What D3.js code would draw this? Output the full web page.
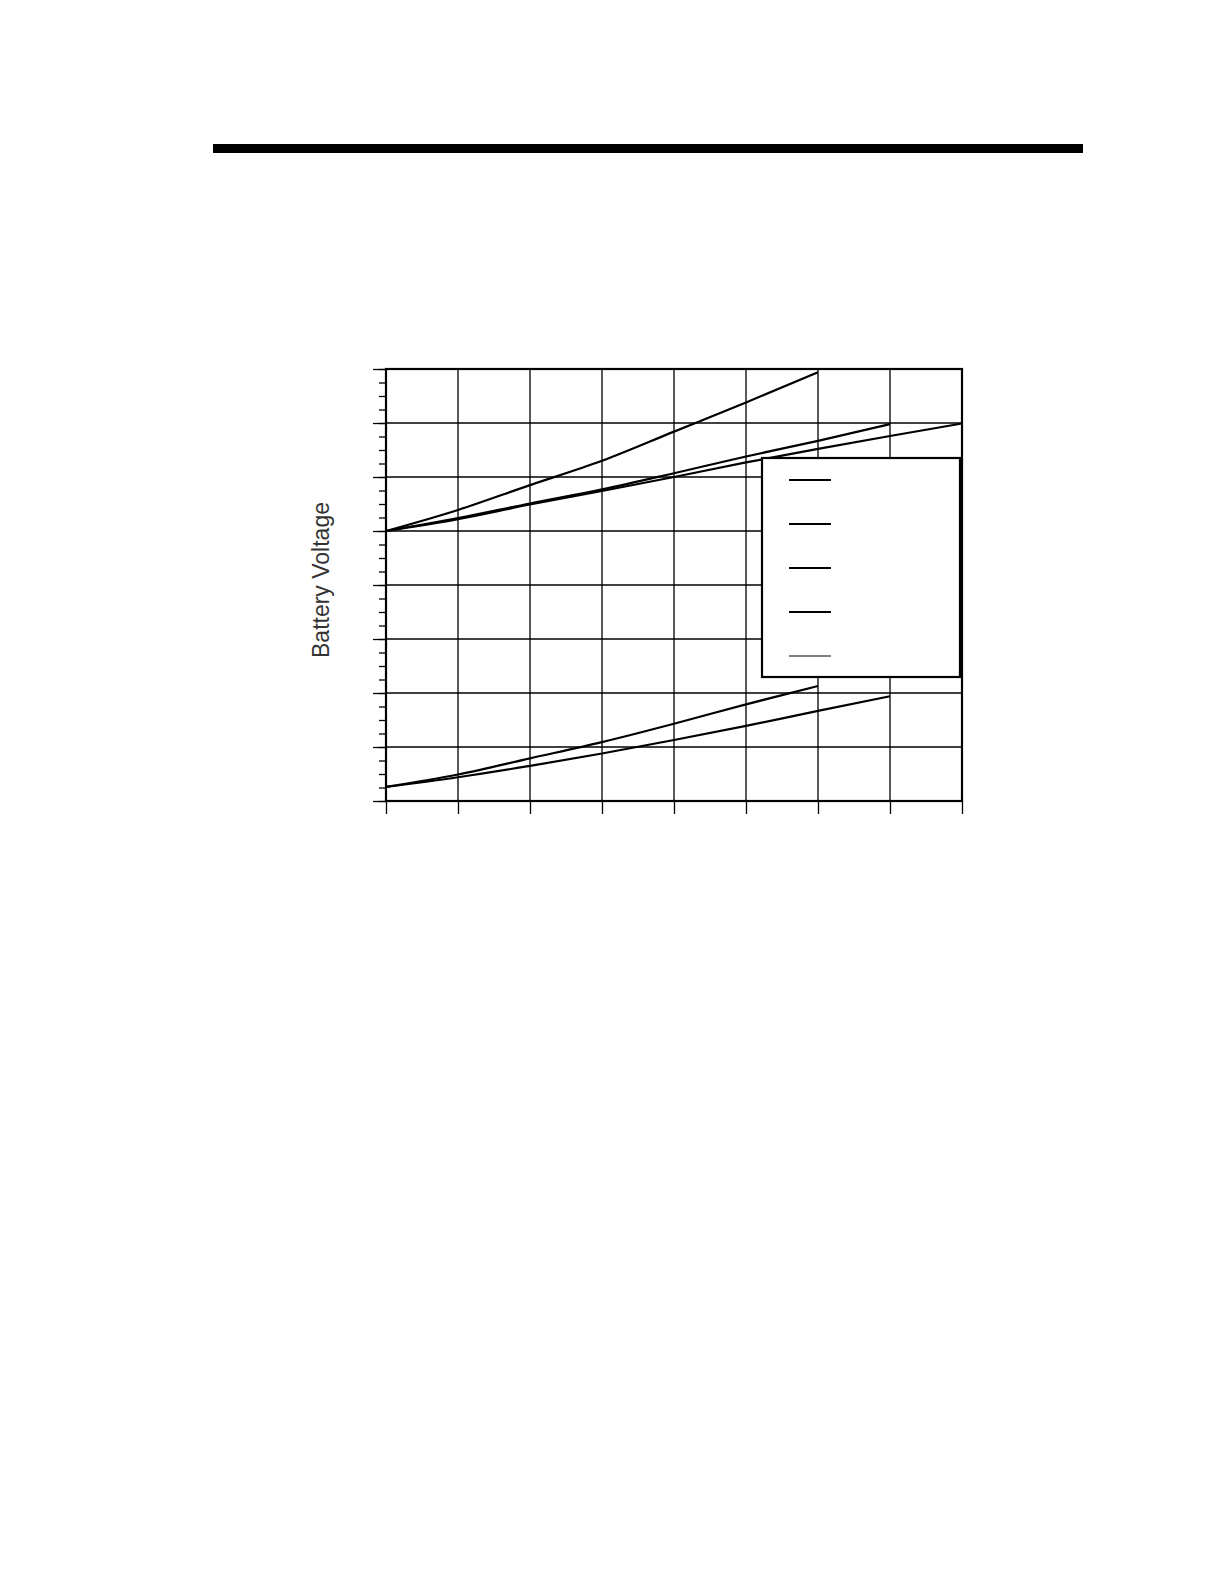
<!DOCTYPE html>
<html>
<head>
<meta charset="utf-8">
<script src="https://cdn.jsdelivr.net/npm/d3@7"></script>
<style>
  body { margin: 0; background: #fff; }
  svg { display: block; }
</style>
</head>
<body>
<script>
// grid units on both axes, no tick labels in the source
var xTicks = [0, 1, 2, 3, 4, 5, 6, 7, 8];
var yTicks = [0, 1, 2, 3, 4, 5, 6, 7, 8];
var yMinorTicks = d3.range(0, 8.01, 0.25);

var hoursA = [0, 1, 2, 3, 4, 5, 6];
var voltsA = [5.0, 5.39, 5.85, 6.30, 6.84, 7.38, 7.94];
var hoursB = [0, 1, 2, 3, 4, 5, 6, 7];
var voltsB = [5.0, 5.24, 5.51, 5.77, 6.07, 6.38, 6.67, 6.98];
var hoursC = [0, 1, 2, 3, 4, 5, 6, 7, 8];
var voltsC = [5.0, 5.22, 5.49, 5.74, 6.0, 6.27, 6.52, 6.76, 6.99];
var hoursD = [0, 1, 2, 3, 4, 5, 6];
var voltsD = [0.26, 0.49, 0.79, 1.09, 1.43, 1.79, 2.13];
var hoursE = [0, 1, 2, 3, 4, 5, 6, 7];
var voltsE = [0.26, 0.44, 0.65, 0.88, 1.13, 1.39, 1.67, 1.94];

var legendEntries = ['', '', '', '', ''];

var margin = {top: 369, left: 386}
  , width = 576
  , height = 432;

var x = d3.scaleLinear().domain([0, 8]).range([0, width]);
var y = d3.scaleLinear().domain([0, 8]).range([height, 0]);

var svg = d3.select('body').append('svg')
    .attr('width', 1224)
    .attr('height', 1584);

// heavy rule at top of page
svg.append('rect')
    .attr('x', 213).attr('y', 144)
    .attr('width', 870).attr('height', 9)
    .attr('fill', '#000');

var main = svg.append('g')
    .attr('transform', 'translate(' + margin.left + ',' + margin.top + ')');

// grid
main.append('g').selectAll('line.v')
    .data(xTicks)
    .enter().append('line')
    .attr('x1', function (d) { return x(d); })
    .attr('x2', function (d) { return x(d); })
    .attr('y1', 0).attr('y2', height)
    .attr('stroke', '#000').attr('stroke-width', 1.3);

main.append('g').selectAll('line.h')
    .data(yTicks)
    .enter().append('line')
    .attr('y1', function (d) { return y(d); })
    .attr('y2', function (d) { return y(d); })
    .attr('x1', 0).attr('x2', width)
    .attr('stroke', '#000').attr('stroke-width', 1.3);

// axes: ticks only
var yAxisMinor = d3.axisLeft(y).tickValues(yMinorTicks).tickSize(7).tickFormat('');
var yAxis = d3.axisLeft(y).tickValues(yTicks).tickSize(13).tickFormat('');
var xAxis = d3.axisBottom(x).tickValues(xTicks).tickSize(13).tickFormat('');

main.append('g').attr('class', 'axis').call(yAxisMinor);
main.append('g').attr('class', 'axis').call(yAxis);
main.append('g').attr('class', 'axis')
    .attr('transform', 'translate(0,' + height + ')').call(xAxis);

main.selectAll('.axis .domain').remove();
main.selectAll('.axis line').attr('stroke', '#000').attr('stroke-width', 1.3);

// frame
main.append('rect')
    .attr('x', 0).attr('y', 0)
    .attr('width', width).attr('height', height)
    .attr('fill', 'none')
    .attr('stroke', '#000').attr('stroke-width', 2.2);

// series
var series = [
  {h: hoursA, v: voltsA},
  {h: hoursB, v: voltsB},
  {h: hoursC, v: voltsC},
  {h: hoursD, v: voltsD},
  {h: hoursE, v: voltsE}
];

var line = d3.line()
    .x(function (d) { return x(d[0]); })
    .y(function (d) { return y(d[1]); })
    .curve(d3.curveMonotoneX);

main.append('g').selectAll('path')
    .data(series)
    .enter().append('path')
    .attr('d', function (s) { return line(d3.zip(s.h, s.v)); })
    .attr('fill', 'none')
    .attr('stroke', '#000')
    .attr('stroke-width', 2.2);

// legend box
var legend = main.append('g').attr('transform', 'translate(376,89)');
legend.append('rect')
    .attr('x', 0).attr('y', 0)
    .attr('width', 198).attr('height', 219)
    .attr('fill', '#fff')
    .attr('stroke', '#000').attr('stroke-width', 2.2);

legend.selectAll('line.key')
    .data(legendEntries)
    .enter().append('line')
    .attr('x1', 27).attr('x2', 69)
    .attr('y1', function (d, i) { return 22 + i * 44; })
    .attr('y2', function (d, i) { return 22 + i * 44; })
    .attr('stroke', '#000')
    .attr('stroke-width', function (d, i) { return i < 4 ? 2.2 : 1.2; });

legend.selectAll('text.key')
    .data(legendEntries)
    .enter().append('text')
    .attr('x', 80)
    .attr('y', function (d, i) { return 27 + i * 44; })
    .style('font-family', 'Liberation Sans, Arial, sans-serif')
    .style('font-size', '14px')
    .text(function (d) { return d; });

// y label
svg.append('text')
    .attr('transform', 'translate(329,580) rotate(-90)')
    .style('text-anchor', 'middle')
    .style('font-family', 'Liberation Sans, Arial, sans-serif')
    .style('font-size', '23px')
    .attr('fill', '#333')
    .text('Battery Voltage');
</script>
</body>
</html>
